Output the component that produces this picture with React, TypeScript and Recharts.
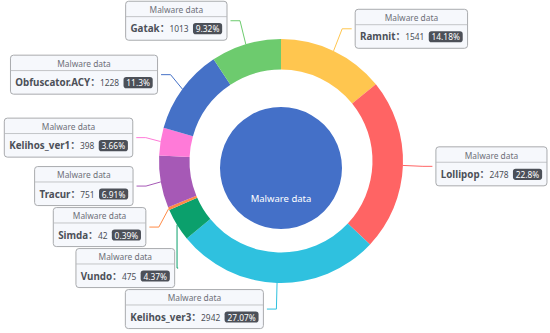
import { PieChart, Pie, Cell } from "recharts";

const seriesName = "Malware data";
const names = [
  "Ramnit",
  "Lollipop",
  "Kelihos_ver3",
  "Vundo",
  "Simda",
  "Tracur",
  "Kelihos_ver1",
  "Obfuscator.ACY",
  "Gatak",
];
const values = [1541, 2478, 2942, 475, 42, 751, 398, 1228, 1013];
const colors = [
  "#FFC64F",
  "#FF6464",
  "#2FC1DF",
  "#0BA06C",
  "#FF8A45",
  "#A659B6",
  "#FF7AD8",
  "#4571C7",
  "#6DCB6E",
];
const innerColor = "#4470C8";

const W = 550;
const H = 333;
const CX = 281;
const CY = 161;
const R_IN = 91.5;
const R_OUT = 122;
const INNER_CY = 168;
const INNER_R = 61;

// label line / box settings (echarts-like layout)
const LEN_X = 20;
const LEN_Y = 24.5;
const LEN2 = 9.5;
const GAP = 3.5;
const LABEL_SHIFT = 5;
const BOX_H = 39;
const SPACING = 41;
const TITLE_H = 15.4;

const FONT = '"Noto Sans", "Noto Sans CJK SC", sans-serif';
const SMALL = 8.4;
const BOLD = 9.8;

const total = values.reduce((a, b) => a + b, 0);
const percentText = (v: number) => `${parseFloat(((v / total) * 100).toFixed(2))}%`;

const data = names.map((name, i) => ({ name, value: values[i] }));

let ctx: CanvasRenderingContext2D | null = null;
function textWidth(text: string, font: string) {
  if (!ctx) ctx = document.createElement("canvas").getContext("2d");
  if (!ctx) return text.length * 6;
  ctx.font = font;
  return ctx.measureText(text).width;
}

interface LabelPos {
  y: number;
  p1x: number;
  dir: number;
  ex: number;
  ey: number;
}

function layoutLabels(): LabelPos[] {
  let acc = 0;
  const rx = R_OUT + LEN_X;
  const ry = R_OUT + LEN_Y;
  const items = values.map((v, i) => {
    const a = ((acc + v / 2) / total) * Math.PI * 2;
    acc += v;
    const ux = Math.sin(a);
    const uy = -Math.cos(a);
    return {
      i,
      ex: CX + R_OUT * ux,
      ey: CY + R_OUT * uy,
      p1x: CX + rx * ux,
      y: CY + ry * uy,
      dir: ux < 0 ? -1 : 1,
    };
  });

  for (const side of [-1, 1]) {
    const list = items.filter((d) => d.dir === side).sort((a, b) => a.y - b.y);
    let shifted = false;
    for (let k = 1; k < list.length; k++) {
      if (list[k].y - list[k - 1].y < SPACING) {
        list[k].y = list[k - 1].y + SPACING;
        shifted = true;
      }
    }
    const maxY = H - BOX_H / 2 - 2;
    if (list.length && list[list.length - 1].y > maxY) {
      list[list.length - 1].y = maxY;
      for (let k = list.length - 2; k >= 0; k--) {
        if (list[k + 1].y - list[k].y < SPACING) list[k].y = list[k + 1].y - SPACING;
      }
    }
    if (!shifted) continue;
    // re-align x on an ellipse, like echarts does
    for (const top of [true, false]) {
      const semi = list.filter((d) => (top ? d.y <= CY : d.y > CY));
      if (!semi.length) continue;
      let far = semi[0];
      semi.forEach((d) => {
        if (Math.abs(d.y - CY) >= Math.abs(far.y - CY)) far = d;
      });
      const dyF = Math.abs(far.y - CY);
      const dxF = Math.abs(far.p1x - CX) + LABEL_SHIFT;
      const rB = dxF < rx ? Math.sqrt((dyF * dyF) / (1 - (dxF * dxF) / (rx * rx))) : rx;
      semi.forEach((d) => {
        const dy = Math.abs(d.y - CY);
        const dx = rx * Math.sqrt(Math.max(0, 1 - (dy * dy) / (rB * rB)));
        d.p1x = CX + side * (dx - LABEL_SHIFT);
      });
    }
  }
  return items.map((d) => ({ y: d.y, p1x: d.p1x, dir: d.dir, ex: d.ex, ey: d.ey }));
}

const labelLayout = layoutLabels();

const RAD = Math.PI / 180;

function OuterLabel(props: any) {
  const i: number = props.index;
  const L = labelLayout[i];
  const ex = props.cx + props.outerRadius * Math.cos(-props.midAngle * RAD);
  const ey = props.cy + props.outerRadius * Math.sin(-props.midAngle * RAD);
  const dir = L.dir;
  const p2x = L.p1x + dir * LEN2;
  // keep the turn angle at least 90 degrees
  const p1x = dir * (L.p1x - ex) < 0 ? ex : L.p1x;
  const edge = p2x + dir * GAP;

  const nameText = `${names[i]}：`;
  const valText = String(values[i]);
  const perText = percentText(values[i]);
  const sp = textWidth("  ", `${SMALL}px ${FONT}`);
  const nameW = textWidth(nameText, `bold ${BOLD}px ${FONT}`);
  const valW = textWidth(valText, `${SMALL}px ${FONT}`);
  const perW = textWidth(perText, `${SMALL}px ${FONT}`) + 5.6;
  const w = 3 * sp + nameW + valW + perW + 1;
  const bx = dir > 0 ? edge : edge - w;
  const by = L.y - BOX_H / 2;
  const rowY = by + TITLE_H + 0.5 + (BOX_H - TITLE_H - 0.5) / 2;
  const nx = bx + 0.5 + sp;
  const vx = nx + nameW;
  const px = vx + valW + sp;

  return (
    <g key={`label-${i}`}>
      <polyline
        points={`${ex},${ey} ${p1x},${L.y} ${p2x},${L.y}`}
        fill="none"
        stroke={colors[i]}
        strokeWidth={1}
      />
      <rect x={bx} y={by} width={w} height={BOX_H} rx={3} fill="#F6F8FC" stroke="#A9ABAE" strokeWidth={1} />
      <line x1={bx} x2={bx + w} y1={by + TITLE_H} y2={by + TITLE_H} stroke="#B5B7BA" strokeWidth={0.8} />
      <text
        x={bx + w / 2}
        y={by + TITLE_H / 2 + 0.5}
        textAnchor="middle"
        dominantBaseline="central"
        fontFamily={FONT}
        fontSize={SMALL}
        fill="#6E7079"
      >
        {seriesName}
      </text>
      <text x={nx} y={rowY} dominantBaseline="central" fontFamily={FONT} fontSize={BOLD} fontWeight="bold" fill="#4C5058">
        {nameText}
      </text>
      <text x={vx} y={rowY} dominantBaseline="central" fontFamily={FONT} fontSize={SMALL} fill="#4C5058">
        {valText}
      </text>
      <rect x={px} y={rowY - 5.6} width={perW} height={11.2} rx={2.8} fill="#4C5058" />
      <text
        x={px + perW / 2}
        y={rowY}
        textAnchor="middle"
        dominantBaseline="central"
        fontFamily={FONT}
        fontSize={SMALL}
        fill="#fff"
      >
        {perText}
      </text>
    </g>
  );
}

function InnerLabel(props: any) {
  const r = props.outerRadius / 2;
  const x = props.cx + r * Math.cos(-props.midAngle * RAD);
  const y = props.cy + r * Math.sin(-props.midAngle * RAD);
  return (
    <text
      x={x}
      y={y}
      textAnchor="middle"
      dominantBaseline="central"
      fontFamily={FONT}
      fontSize={9.5}
      fill="#fff"
    >
      {props.name}
    </text>
  );
}

export default function App() {
  return (
    <div style={{ position: "absolute", left: 0, top: 0, width: W, height: H, background: "#fff" }}>
      <PieChart width={W} height={H} margin={{ top: 0, right: 0, bottom: 0, left: 0 }}>
        <Pie
          data={data}
          dataKey="value"
          nameKey="name"
          cx={CX}
          cy={CY}
          innerRadius={R_IN}
          outerRadius={R_OUT}
          startAngle={90}
          endAngle={-270}
          stroke="none"
          label={OuterLabel}
          labelLine={false}
          isAnimationActive={false}
        >
          {data.map((d, i) => (
            <Cell key={d.name} fill={colors[i]} />
          ))}
        </Pie>
        <Pie
          data={[{ name: seriesName, value: total }]}
          dataKey="value"
          nameKey="name"
          cx={CX}
          cy={INNER_CY}
          innerRadius={0}
          outerRadius={INNER_R}
          startAngle={90}
          endAngle={-270}
          stroke="none"
          fill={innerColor}
          label={InnerLabel}
          labelLine={false}
          isAnimationActive={false}
        />
      </PieChart>
    </div>
  );
}
